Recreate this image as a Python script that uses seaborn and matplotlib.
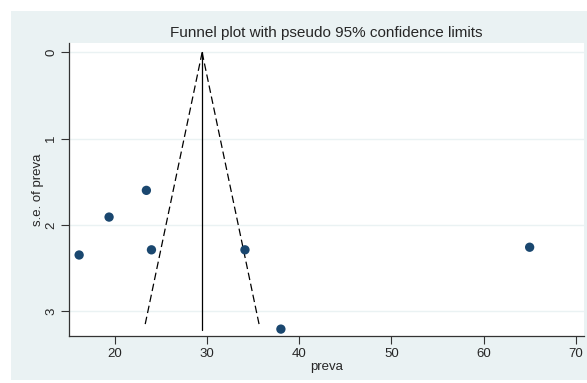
import matplotlib
matplotlib.use('Agg')
import matplotlib.pyplot as plt
from matplotlib.patches import Rectangle
import seaborn as sns
import numpy as np
import pandas as pd

# study estimates
preva = [16.1, 19.35, 23.4, 23.95, 34.1, 38.0, 65.0]
se_preva = [2.35, 1.91, 1.60, 2.29, 2.29, 3.21, 2.26]

pooled = 29.45          # fixed-effect estimate (vertical line)
se_funnel_max = 3.17    # bottom of the pseudo 95% limits
se_line_max = 3.22      # bottom of the vertical line

x_ticks = [20, 30, 40, 50, 60, 70]
y_ticks = [0, 1, 2, 3]

df = pd.DataFrame({'preva': preva, 'se': se_preva})

sns.set_theme(style='white')
plt.rcParams['font.family'] = ['Liberation Sans', 'DejaVu Sans']

fig = plt.figure(figsize=(5.87, 3.83), dpi=100)
fig.patch.set_facecolor('white')
# stata style gray-blue outer region, drawn behind the axes
fig.patches.append(Rectangle((11 / 587, 3 / 383), 576 / 587, 369 / 383,
                             transform=fig.transFigure, facecolor='#eaf2f3',
                             edgecolor='none', zorder=-10))

ax = fig.add_axes([69 / 587, 47 / 383, 515 / 587, 293 / 383])
ax.set_zorder(1)
ax.set_facecolor('white')

for yv in y_ticks:
    ax.axhline(yv, color='#eaf2f3', lw=1, zorder=0)

# pseudo 95% confidence limits
se_grid = np.array([0, se_funnel_max])
ax.plot(pooled - 1.96 * se_grid, se_grid, color='black', lw=0.9, ls=(0, (6, 3)))
ax.plot(pooled + 1.96 * se_grid, se_grid, color='black', lw=0.9, ls=(0, (6, 3)))
ax.plot([pooled, pooled], [0, se_line_max], color='black', lw=0.9)

sns.scatterplot(data=df, x='preva', y='se', ax=ax, color='#1a476f',
                s=45, edgecolor='none', zorder=3)

ax.set_xlim(15.0, 70.9)
ax.set_ylim(3.29, -0.11)
ax.set_xticks(x_ticks)
ax.set_yticks(y_ticks)
ax.set_yticklabels([str(v) for v in y_ticks], rotation=90, va='center')
ax.tick_params(axis='both', direction='out', length=5.5, width=0.8,
               color='#333333', labelsize=9.5, pad=3, left=True, bottom=True)

for side in ['top', 'right']:
    ax.spines[side].set_visible(False)
for side in ['left', 'bottom']:
    ax.spines[side].set_color('#333333')
    ax.spines[side].set_linewidth(0.9)

ax.set_xlabel('preva', fontsize=9.5, labelpad=1)
ax.set_ylabel('s.e. of preva', fontsize=9.5, labelpad=1)
fig.text(326 / 587, 1 - 33 / 383, 'Funnel plot with pseudo 95% confidence limits',
         ha='center', va='center', fontsize=11)

fig.savefig('out.png', dpi=100, facecolor='white')
